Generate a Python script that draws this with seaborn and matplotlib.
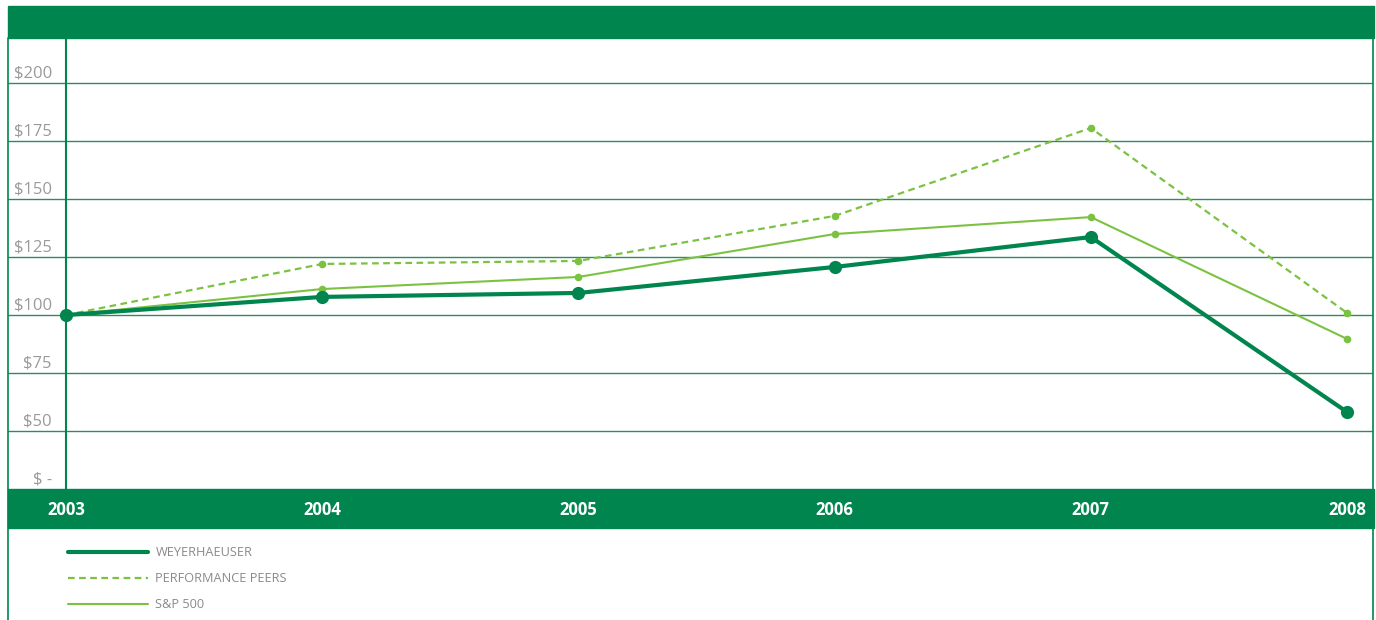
import matplotlib.pyplot as plt
import matplotlib.transforms as mtransforms
from matplotlib.patches import Rectangle
from matplotlib.lines import Line2D
import pandas as pd
import seaborn as sns


# Chart data (indexed total return, $100 invested in 2003)
years = [2003, 2004, 2005, 2006, 2007, 2008]
weyerhaeuser = [100, 107.8, 109.5, 120.7, 133.6, 58.2]
performance_peers = [100, 122.0, 123.3, 142.7, 180.6, 100.9]
sp500 = [100, 111.2, 116.4, 134.9, 142.2, 89.7]

# the axis floor is labelled "$ -" in the original
y_ticks = [25, 50, 75, 100, 125, 150, 175, 200]
y_tick_labels = ["$ -", "$50", "$75", "$100", "$125", "$150", "$175", "$200"]
series_names = ["WEYERHAEUSER", "PERFORMANCE PEERS", "S&P 500"]

DARK_GREEN = "#00854f"
LIGHT_GREEN = "#7cc242"
GRID_GREEN = "#2f8a5c"
LABEL_GREY = "#9a9a9a"

sns.set_theme(style="white")
plt.rcParams["font.family"] = ["Open Sans", "DejaVu Sans"]

W, H = 1376, 620
fig = plt.figure(figsize=(W / 100, H / 100), dpi=100)


def fx(px):
    return px / W


def fy(py):
    return 1 - py / H


# plot area spans the whole frame width, 2003 sits at pixel 66
px_per_year = (1347 - 66) / 5
ax = fig.add_axes([fx(8), fy(489), fx(1373) - fx(8), fy(38) - fy(489)])
ax.set_xlim(2003 - 58 / px_per_year, 2008 + 26 / px_per_year)
ax.set_ylim(25, 219.4)

df = pd.DataFrame({
    "Year": years,
    "WEYERHAEUSER": weyerhaeuser,
    "PERFORMANCE PEERS": performance_peers,
    "S&P 500": sp500,
})

for v in y_ticks[1:]:
    ax.axhline(v, color=GRID_GREEN, lw=1.0, zorder=1)
ax.axvline(2003, color=DARK_GREEN, lw=1.5, zorder=1)

sns.lineplot(data=df, x="Year", y="PERFORMANCE PEERS", ax=ax,
             color=LIGHT_GREEN, lw=1.6, marker="o", markersize=5.5,
             markeredgewidth=0, zorder=3)
ax.lines[-1].set_dashes((3, 2))
sns.lineplot(data=df, x="Year", y="S&P 500", ax=ax,
             color=LIGHT_GREEN, lw=1.5, marker="o", markersize=5.5,
             markeredgewidth=0, zorder=4)
sns.lineplot(data=df, x="Year", y="WEYERHAEUSER", ax=ax,
             color=DARK_GREEN, lw=3.0, marker="o", markersize=9.5,
             markeredgewidth=0, zorder=5)

for v, lab in zip(y_ticks, y_tick_labels):
    ax.text(2003 - 14 / px_per_year, v + 0.6, lab, ha="right", va="bottom",
            fontsize=12, color=LABEL_GREY)

ax.set_xticks([])
ax.set_yticks([])
ax.set_xlabel("")
ax.set_ylabel("")
for s in ax.spines.values():
    s.set_visible(False)

# green bands and frame
fig.patches.append(Rectangle((fx(8), fy(38)), fx(1374) - fx(8), fy(6) - fy(38),
                             transform=fig.transFigure, color=DARK_GREEN, zorder=0))
fig.patches.append(Rectangle((fx(8), fy(528)), fx(1374) - fx(8), fy(489) - fy(528),
                             transform=fig.transFigure, color=DARK_GREEN, zorder=0))
fig.lines.append(Line2D([fx(8), fx(8)], [fy(38), 0], transform=fig.transFigure,
                        color=DARK_GREEN, lw=1.2))
fig.lines.append(Line2D([fx(1373), fx(1373)], [fy(38), 0], transform=fig.transFigure,
                        color=DARK_GREEN, lw=1.2))

trans = mtransforms.blended_transform_factory(ax.transData, fig.transFigure)
for yr in years:
    fig.text(yr, fy(510), str(yr), transform=trans, ha="center", va="center",
             fontsize=12, fontweight="bold", color="white", zorder=10)

# legend below the year band
handles = [
    Line2D([], [], color=DARK_GREEN, lw=3.0),
    Line2D([], [], color=LIGHT_GREEN, lw=1.6, dashes=(3, 2)),
    Line2D([], [], color=LIGHT_GREEN, lw=1.5),
]
fig.legend(handles, series_names, loc="upper left",
           bbox_to_anchor=(fx(57), fy(535)), frameon=False, fontsize=9.2,
           labelcolor="#8a8a8a", handlelength=6.2, handletextpad=0.6,
           labelspacing=1.0)

plt.savefig("out.png", dpi=100)
